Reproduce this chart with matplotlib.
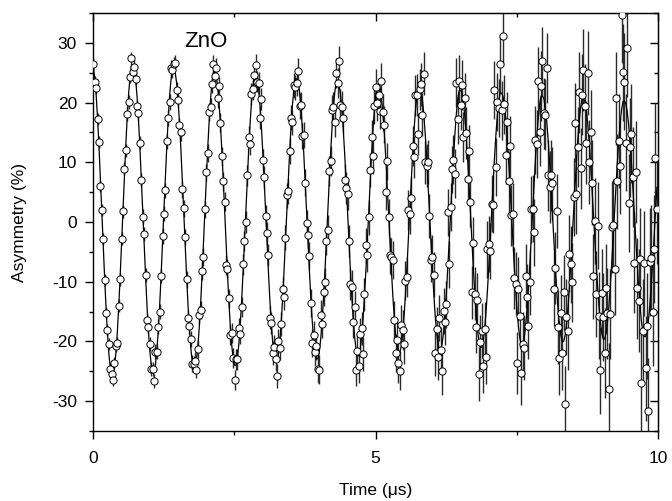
import numpy as np
import matplotlib
matplotlib.use("Agg")
import matplotlib.pyplot as plt
from matplotlib.ticker import MultipleLocator

# muSR asymmetry of ZnO, one row per 0.2 us of time bins
time_us = np.array([
    0.005, 0.03, 0.055, 0.08, 0.105, 0.13, 0.155, 0.18,
    0.205, 0.23, 0.255, 0.28, 0.305, 0.33, 0.355, 0.38,
    0.405, 0.43, 0.455, 0.48, 0.505, 0.53, 0.555, 0.58,
    0.605, 0.63, 0.655, 0.68, 0.705, 0.73, 0.755, 0.78,
    0.805, 0.83, 0.855, 0.88, 0.905, 0.93, 0.955, 0.98,
    1.005, 1.03, 1.055, 1.08, 1.105, 1.13, 1.155, 1.18,
    1.205, 1.23, 1.255, 1.28, 1.305, 1.33, 1.355, 1.38,
    1.405, 1.43, 1.455, 1.48, 1.505, 1.53, 1.555, 1.58,
    1.605, 1.63, 1.655, 1.68, 1.705, 1.73, 1.755, 1.78,
    1.805, 1.83, 1.855, 1.88, 1.905, 1.93, 1.955, 1.98,
    2.005, 2.03, 2.055, 2.08, 2.105, 2.13, 2.155, 2.18,
    2.205, 2.23, 2.255, 2.28, 2.305, 2.33, 2.355, 2.38,
    2.405, 2.43, 2.455, 2.48, 2.505, 2.53, 2.555, 2.58,
    2.605, 2.63, 2.655, 2.68, 2.705, 2.73, 2.755, 2.78,
    2.805, 2.83, 2.855, 2.88, 2.905, 2.93, 2.955, 2.98,
    3.005, 3.03, 3.055, 3.08, 3.105, 3.13, 3.155, 3.18,
    3.205, 3.23, 3.255, 3.28, 3.305, 3.33, 3.355, 3.38,
    3.405, 3.43, 3.455, 3.48, 3.505, 3.53, 3.555, 3.58,
    3.605, 3.63, 3.655, 3.68, 3.705, 3.73, 3.755, 3.78,
    3.805, 3.83, 3.855, 3.88, 3.905, 3.93, 3.955, 3.98,
    4.005, 4.03, 4.055, 4.08, 4.105, 4.13, 4.155, 4.18,
    4.205, 4.23, 4.255, 4.28, 4.305, 4.33, 4.355, 4.38,
    4.405, 4.43, 4.455, 4.48, 4.505, 4.53, 4.555, 4.58,
    4.605, 4.63, 4.655, 4.68, 4.705, 4.73, 4.755, 4.78,
    4.805, 4.83, 4.855, 4.88, 4.905, 4.93, 4.955, 4.98,
    5.005, 5.03, 5.055, 5.08, 5.105, 5.13, 5.155, 5.18,
    5.205, 5.23, 5.255, 5.28, 5.305, 5.33, 5.355, 5.38,
    5.405, 5.43, 5.455, 5.48, 5.505, 5.53, 5.555, 5.58,
    5.605, 5.63, 5.655, 5.68, 5.705, 5.73, 5.755, 5.78,
    5.805, 5.83, 5.855, 5.88, 5.905, 5.93, 5.955, 5.98,
    6.005, 6.03, 6.055, 6.08, 6.105, 6.13, 6.155, 6.18,
    6.205, 6.23, 6.255, 6.28, 6.305, 6.33, 6.355, 6.38,
    6.405, 6.43, 6.455, 6.48, 6.505, 6.53, 6.555, 6.58,
    6.605, 6.63, 6.655, 6.68, 6.705, 6.73, 6.755, 6.78,
    6.805, 6.83, 6.855, 6.88, 6.905, 6.93, 6.955, 6.98,
    7.005, 7.03, 7.055, 7.08, 7.105, 7.13, 7.155, 7.18,
    7.205, 7.23, 7.255, 7.28, 7.305, 7.33, 7.355, 7.38,
    7.405, 7.43, 7.455, 7.48, 7.505, 7.53, 7.555, 7.58,
    7.605, 7.63, 7.655, 7.68, 7.705, 7.73, 7.755, 7.78,
    7.805, 7.83, 7.855, 7.88, 7.905, 7.93, 7.955, 7.98,
    8.005, 8.03, 8.055, 8.08, 8.105, 8.13, 8.155, 8.18,
    8.205, 8.23, 8.255, 8.28, 8.305, 8.33, 8.355, 8.38,
    8.405, 8.43, 8.455, 8.48, 8.505, 8.53, 8.555, 8.58,
    8.605, 8.63, 8.655, 8.68, 8.705, 8.73, 8.755, 8.78,
    8.805, 8.83, 8.855, 8.88, 8.905, 8.93, 8.955, 8.98,
    9.005, 9.03, 9.055, 9.08, 9.105, 9.13, 9.155, 9.18,
    9.205, 9.23, 9.255, 9.28, 9.305, 9.33, 9.355, 9.38,
    9.405, 9.43, 9.455, 9.48, 9.505, 9.53, 9.555, 9.58,
    9.605, 9.63, 9.655, 9.68, 9.705, 9.73, 9.755, 9.78,
    9.805, 9.83, 9.855, 9.88, 9.905, 9.93, 9.955, 9.98,
])

# measured asymmetry (%), one row per precession period
asym = np.array([
    26.4, 23.5, 22.5, 17.3, 13.4, 6.1, 2.0, -2.8, -9.7, -15.3, -18.1, -20.4, -24.6, -25.5,
    -26.4, -23.6, -20.8, -20.2, -14.0, -9.6, -2.8, 1.8, 8.9, 12.0, 18.1, 20.1, 24.3, 27.4,
    25.1, 26.0, 24.0, 19.4, 18.2, 13.3, 7.0, 0.9, -2.0, -8.9, -16.4, -17.6, -20.4, -24.6, -24.6,
    -26.6, -21.7, -21.7, -17.5, -15.0, -9.0, -2.3, 1.4, 5.3, 13.5, 17.4, 20.1, 25.8, 25.5,
    26.4, 26.7, 22.1, 20.5, 16.2, 15.0, 5.5, 2.3, -2.5, -9.6, -16.1, -17.4, -19.6, -23.7, -23.8,
    -23.2, -24.8, -21.3, -15.6, -14.7, -8.2, -5.9, 2.1, 8.3, 11.5, 18.5, 19.3, 23.1, 26.5,
    24.5, 25.8, 20.7, 22.7, 16.6, 11.0, 6.8, 3.4, -7.2, -7.8, -12.8, -18.9, -18.6, -22.8, -26.4,
    -23.0, -23.0, -17.7, -18.8, -14.2, -7.1, -3.2, 0.0, 7.8, 14.3, 13.0, 21.4, 22.3, 24.7,
    26.3, 23.5, 23.3, 17.5, 20.6, 10.4, 7.5, 1.0, -1.9, -5.5, -16.0, -16.9, -21.9, -21.0, -23.0,
    -25.8, -20.0, -21.1, -17.1, -11.2, -12.6, -2.6, 4.5, 5.2, 11.9, 17.5, 16.7, 22.9, 22.6,
    23.3, 25.3, 19.4, 19.6, 14.4, 14.6, 6.6, -0.2, -2.1, -5.7, -13.6, -20.3, -18.9, -21.8, -20.8,
    -24.6, -24.7, -15.5, -17.1, -11.7, -10.1, -3.1, -1.3, 8.6, 10.2, 18.7, 19.2, 16.8, 25.0,
    23.3, 26.9, 19.6, 19.3, 17.5, 7.1, 5.7, 4.7, -3.2, -10.4, -10.8, -16.7, -14.3, -24.8, -21.6,
    -24.1, -18.8, -17.8, -22.1, -12.1, -3.9, -5.5, 0.8, 8.7, 14.2, 11.0, 19.4, 22.6, 20.0,
    21.2, 18.6, 23.6, 18.4, 16.3, 5.1, 10.2, 0.8, -5.6, -5.9, -6.3, -16.4, -22.0, -19.8, -23.6,
    -24.9, -17.2, -18.1, -20.4, -9.8, -9.2, 2.0, 1.4, 4.1, 12.7, 10.9, 21.2, 21.3, 14.8,
    22.2, 23.1, 18.0, 24.8, 10.0, 9.4, 10.1, 1.0, -6.4, -5.8, -8.8, -22.0, -18.0, -22.6, -16.1,
    -21.4, -25.0, -14.9, -16.7, -13.8, 1.6, -7.1, 2.5, 8.8, 10.4, 8.1, 23.3, 17.2, 23.7,
    19.6, 22.9, 14.2, 20.7, 14.9, 7.2, 11.9, 3.4, -11.8, -3.5, -12.0, -17.5, -13.0, -25.4, -20.1,
    -18.2, -24.1, -18.0, -22.6, -4.6, -3.7, -4.9, 3.1, 2.9, 22.1, 9.2, 20.1, 19.1, 26.5,
    18.7, 31.1, 19.7, 11.3, 16.7, 6.8, 12.7, 1.1, 1.3, -9.4, -10.3, -23.6, -11.2, -15.8, -25.3,
    -20.5, -21.1, -9.0, -12.6, -17.4, -10.1, 2.1, 2.2, -1.7, 13.8, 13.1, 23.6, 15.1, 22.8,
    26.9, 18.2, 18.0, 25.8, 7.8, 5.9, 7.8, 6.5, -11.3, -7.7, 1.9, -17.6, -22.8, -15.2, -21.9,
    -11.8, -30.5, -15.9, -18.3, -5.3, -7.1, -10.1, 4.2, 16.6, 4.7, 12.5, 21.7, 9.0, 21.3,
    25.5, 19.5, 13.3, 25.0, 10.1, 15.0, 6.6, -9.1, 0.1, -12.0, -0.6, -15.7, -24.8, -11.9, -15.9,
    -21.9, -11.1, -15.3, -27.9, -15.4, -0.8, -0.5, -7.8, 20.7, 6.8, 13.6, 9.4, 34.6, 25.1,
    23.5, 13.3, 29.2, 3.2, 12.5, 14.8, 7.5, -6.8, 8.4, -11.1, -13.2, -6.2,
    -26.9, -18.3, -6.9, -24.5, -17.4, -31.6, -6.7, -6.1, -15.0, -4.5, 10.8, 2.1,
])

# statistical error bars (%)
asym_err = np.array(
    [1.0] * 18 + [1.1] * 10
    + [1.1] * 6 + [1.2] * 15 + [1.3] * 8
    + [1.3] * 5 + [1.4] * 12 + [1.5] * 12
    + [1.6] * 11 + [1.7] * 11 + [1.8] * 7
    + [1.8] * 2 + [1.9] * 10 + [2.0] * 8 + [2.1] * 9
    + [2.2] * 8 + [2.3] * 7 + [2.4] * 8 + [2.5] * 6
    + [2.5] * 1 + [2.6] * 6 + [2.7] * 7 + [2.8] * 6 + [2.9] * 6 + [3.0] * 3
    + [3.0] * 3 + [3.1] * 6 + [3.2] * 5 + [3.3] * 6 + [3.4] * 5 + [3.5] * 4
    + [3.5] * 1 + [3.6] * 5 + [3.7] * 4 + [3.8] * 5 + [3.9] * 5 + [4.0] * 4 + [4.1] * 4 + [4.2] * 1
    + [4.2] * 3 + [4.3] * 5 + [4.4] * 3 + [4.5] * 4 + [4.6] * 4 + [4.7] * 4 + [4.8] * 4 + [4.9] * 2
    + [4.9] * 1 + [5.0] * 4 + [5.1] * 3 + [5.2] * 4 + [5.3] * 3 + [5.4] * 3 + [5.5] * 3
    + [5.6] * 3 + [5.7] * 4 + [5.8] * 1
    + [5.8, 5.9, 5.9, 5.9, 6.0, 6.0, 6.0, 6.1, 6.1, 6.1, 6.2, 6.2, 6.2, 6.3, 6.3,
       6.3, 6.4, 6.4, 6.4, 6.5, 6.5, 6.6, 6.6, 6.6, 6.7, 6.7, 6.8, 6.8, 6.8]
    + [6.9, 6.9, 6.9, 7.0, 7.0, 7.1, 7.1, 7.1, 7.2, 7.2, 7.3, 7.3, 7.3, 7.4, 7.4,
       7.5, 7.5, 7.6, 7.6, 7.6, 7.7, 7.7, 7.8, 7.8, 7.9, 7.9, 8.0, 8.0, 8.1]
    + [8.1, 8.1, 8.2, 8.2, 8.3, 8.3, 8.4, 8.4, 8.5, 8.5, 8.6, 8.6,
       8.7, 8.7, 8.8, 8.8, 8.9, 8.9, 9.0, 9.0, 9.1, 9.1, 9.2, 9.2]
)

# fitted precession curve (%), same time bins
asym_fit = np.array([
    26.1, 24.3, 21.4, 17.5, 12.8, 7.5, 1.9, -3.7, -9.2, -14.2, -18.5, -22.0, -24.3, -25.5,
    -25.5, -24.3, -22.0, -18.5, -14.2, -9.2, -3.7, 1.9, 7.5, 12.8, 17.5, 21.4, 24.3, 26.1,
    26.2, 25.6, 23.8, 21.0, 17.1, 12.5, 7.4, 1.9, -3.7, -9.0, -13.9, -18.2, -21.5, -23.9, -25.0,
    -25.0, -23.9, -21.5, -18.2, -13.9, -9.0, -3.7, 1.9, 7.4, 12.5, 17.1, 21.0, 23.8, 25.6,
    25.6, 25.0, 23.3, 20.5, 16.7, 12.3, 7.2, 1.9, -3.6, -8.8, -13.6, -17.7, -21.0, -23.3, -24.5,
    -24.5, -23.3, -21.0, -17.7, -13.6, -8.8, -3.6, 1.9, 7.2, 12.3, 16.7, 20.5, 23.3, 25.0,
    25.1, 24.5, 22.8, 20.1, 16.4, 12.0, 7.1, 1.8, -3.5, -8.6, -13.3, -17.4, -20.6, -22.8, -24.0,
    -24.0, -22.8, -20.6, -17.4, -13.3, -8.6, -3.5, 1.8, 7.1, 12.0, 16.4, 20.1, 22.8, 24.5,
    24.5, 23.9, 22.3, 19.6, 16.0, 11.7, 6.9, 1.8, -3.4, -8.4, -13.0, -16.9, -20.1, -22.2, -23.4,
    -23.4, -22.2, -20.1, -16.9, -13.0, -8.4, -3.4, 1.8, 6.9, 11.7, 16.0, 19.6, 22.3, 23.9,
    24.0, 23.5, 21.8, 19.2, 15.7, 11.5, 6.8, 1.8, -3.3, -8.2, -12.7, -16.6, -19.6, -21.8, -22.9,
    -22.9, -21.8, -19.6, -16.6, -12.7, -8.2, -3.3, 1.8, 6.8, 11.5, 15.7, 19.2, 21.8, 23.5,
    23.5, 23.0, 21.4, 18.8, 15.4, 11.3, 6.7, 1.7, -3.2, -8.0, -12.4, -16.2, -19.2, -21.3, -22.4,
    -22.4, -21.3, -19.2, -16.2, -12.4, -8.0, -3.2, 1.7, 6.7, 11.3, 15.4, 18.8, 21.4, 23.0,
    23.0, 22.5, 20.9, 18.4, 15.1, 11.0, 6.5, 1.7, -3.1, -7.8, -12.1, -15.8, -18.8, -20.8, -21.9,
    -21.9, -20.8, -18.8, -15.8, -12.1, -7.8, -3.1, 1.7, 6.5, 11.0, 15.1, 18.4, 20.9, 22.5,
    22.5, 22.0, 20.5, 18.0, 14.7, 10.8, 6.4, 1.7, -3.1, -7.6, -11.8, -15.5, -18.4, -20.3, -21.4,
    -21.4, -20.3, -18.4, -15.5, -11.8, -7.6, -3.1, 1.7, 6.4, 10.8, 14.7, 18.0, 20.5, 22.0,
    22.1, 21.6, 20.1, 17.7, 14.5, 10.6, 6.3, 1.7, -3.0, -7.5, -11.6, -15.2, -18.0, -20.0, -21.0,
    -21.0, -20.0, -18.0, -15.2, -11.6, -7.5, -3.0, 1.7, 6.3, 10.6, 14.5, 17.7, 20.1, 21.6,
    21.6, 21.1, 19.7, 17.3, 14.2, 10.4, 6.1, 1.6, -2.9, -7.3, -11.3, -14.8, -17.6, -19.5, -20.5,
    -20.5, -19.5, -17.6, -14.8, -11.3, -7.3, -2.9, 1.6, 6.1, 10.4, 14.2, 17.3, 19.7, 21.1,
    21.1, 20.6, 19.2, 16.9, 13.8, 10.1, 6.0, 1.6, -2.8, -7.1, -11.1, -14.5, -17.2, -19.0, -20.0,
    -20.0, -19.0, -17.2, -14.5, -11.1, -7.1, -2.8, 1.6, 6.0, 10.1, 13.8, 16.9, 19.2, 20.6,
    20.7, 20.2, 18.8, 16.6, 13.6, 10.0, 5.9, 1.6, -2.8, -7.0, -10.8, -14.2, -16.8, -18.6, -19.6,
    -19.6, -18.6, -16.8, -14.2, -10.8, -7.0, -2.8, 1.6, 5.9, 10.0, 13.6, 16.6, 18.8, 20.2,
    20.3, 19.8, 18.5, 16.3, 13.3, 9.8, 5.8, 1.6, -2.7, -6.8, -10.6, -13.9,
    -16.5, -18.3, -19.2, -19.2, -18.3, -16.5, -13.9, -10.6, -6.8, -2.7, 1.6, 5.8,
])

plt.rcParams['font.family'] = ['Liberation Sans', 'DejaVu Sans']
plt.rcParams['axes.unicode_minus'] = False

fig = plt.figure(figsize=(6.72, 5.01), dpi=100)
ax = fig.add_axes([0.1384, 0.1397, 0.8408, 0.8343])

# error bars, then the fit, then the open circles on top
ax.errorbar(time_us, asym, yerr=asym_err, fmt='none', ecolor='#2b2b2b',
            elinewidth=1.0, capsize=0, zorder=1)
ax.plot(time_us, asym_fit, color='black', lw=0.9, zorder=2)
ax.plot(time_us, asym, 'o', ms=5.2, mfc='white', mec='black', mew=0.7, zorder=3)

ax.set_xlim(0, 10)
ax.set_ylim(-35, 35)
ax.set_xticks([0, 5, 10])
ax.set_yticks([-30, -20, -10, 0, 10, 20, 30])
ax.xaxis.set_minor_locator(MultipleLocator(2.5))
ax.yaxis.set_minor_locator(MultipleLocator(5))
ax.tick_params(which='both', direction='out', labelsize=12.5, width=1)
ax.tick_params(which='major', length=6)
ax.tick_params(which='minor', length=3)
ax.tick_params(axis='x', which='major', pad=8.5)
ax.tick_params(axis='y', which='major', pad=5.5)

# mirrored ticks pointing inward on top and right
top = ax.secondary_xaxis('top')
top.set_xticks([0, 5, 10])
top.xaxis.set_minor_locator(MultipleLocator(2.5))
top.tick_params(which='both', direction='in', labeltop=False, width=1)
top.tick_params(which='major', length=6)
top.tick_params(which='minor', length=3)
right = ax.secondary_yaxis('right')
right.set_yticks([-30, -20, -10, 0, 10, 20, 30])
right.yaxis.set_minor_locator(MultipleLocator(5))
right.tick_params(which='both', direction='in', labelright=False, width=1)
right.tick_params(which='major', length=6)
right.tick_params(which='minor', length=3)

for sp in ax.spines.values():
    sp.set_linewidth(1)

ax.set_xlabel('Time (\u03bcs)', fontsize=12.5, labelpad=12)
ax.set_ylabel('Asymmetry (%)', fontsize=12.5, labelpad=18)
ax.text(2.0, 30.3, 'ZnO', fontsize=16, ha='center', va='center')

fig.savefig('out.png', dpi=100)
